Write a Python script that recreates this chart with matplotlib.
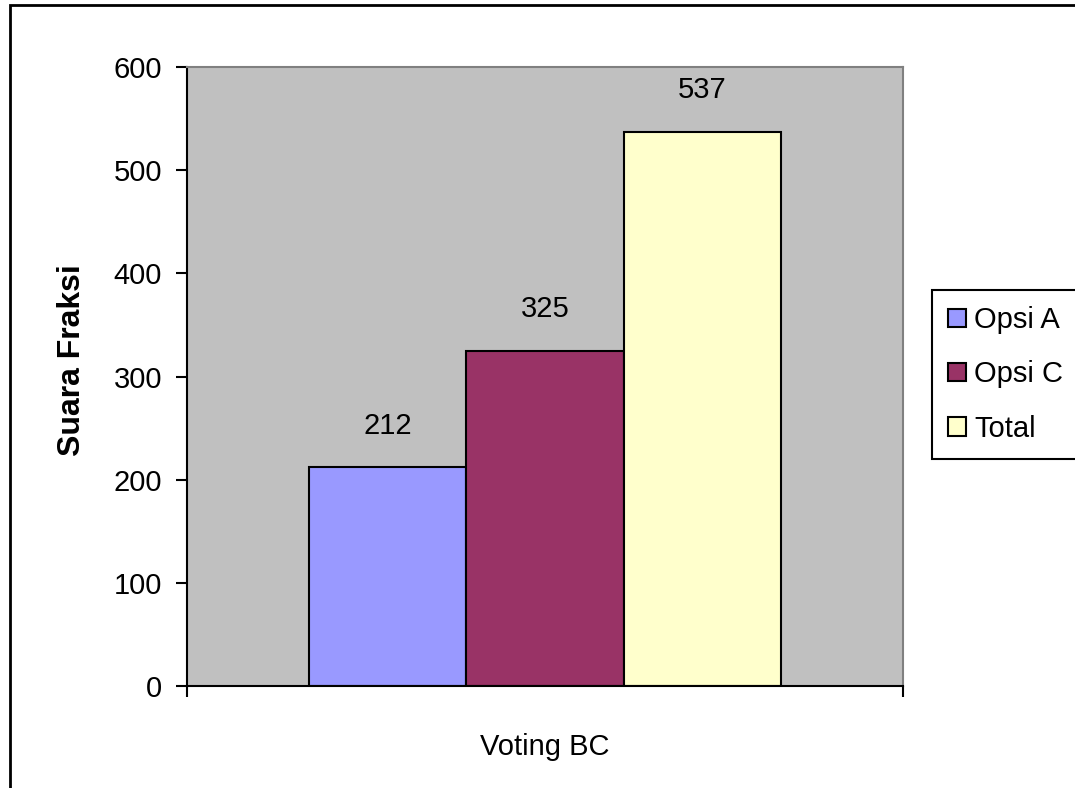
import matplotlib.pyplot as plt
from matplotlib.patches import Rectangle

plt.rcParams['font.family'] = ['Liberation Sans', 'DejaVu Sans']

# Data
category = "Voting BC"
series = ["Opsi A", "Opsi C", "Total"]
values = [212, 325, 537]
colors = ["#9999FF", "#993366", "#FFFFCC"]

fig = plt.figure(figsize=(10.75, 7.88), dpi=100)
ax = fig.add_axes([187/1075, 1 - 686/788, 716/1075, 619/788])
ax.set_facecolor("#C0C0C0")

width = 0.22
offsets = [-width, 0, width]
for name, val, col, off in zip(series, values, colors, offsets):
    ax.bar(0.5 + off, val, width=width, color=col, edgecolor="black",
           linewidth=1.5, label=name)
    ax.annotate(str(val), (0.5 + off, val), xytext=(0, 20), textcoords="offset points",
                ha="center", va="bottom", fontsize=21)

ax.set_xlim(0, 1)
ax.set_ylim(0, 600)
ax.set_yticks(range(0, 601, 100))
ax.tick_params(axis="y", labelsize=21, length=8, width=1.5, direction="out", pad=10)
ax.set_xticks([0.5])
ax.set_xticklabels([category], fontsize=21)
ax.tick_params(axis="x", which="major", length=0, pad=34)
ax.set_xticks([0, 1], minor=True)
ax.tick_params(axis="x", which="minor", length=8, width=1.5, direction="out")

ax.spines["left"].set_linewidth(1.5)
ax.spines["bottom"].set_linewidth(1.5)
for s in ["top", "right"]:
    ax.spines[s].set_color("#808080")
    ax.spines[s].set_linewidth(1.5)

# y axis title
fig.text(72/1075, 1 - 360/788, "Suara Fraksi", rotation=90, ha="center", va="center",
         fontsize=23, fontweight="bold")

leg = fig.legend(loc="upper left", bbox_to_anchor=(932/1075, 1 - 290/788),
                 fontsize=21, fancybox=False, edgecolor="black", framealpha=1,
                 handlelength=0.6, handleheight=0.6, handletextpad=0.3,
                 labelspacing=0.9, borderpad=0.55, borderaxespad=0)
leg.get_frame().set_linewidth(1.5)

# outer chart border (cropped at right and bottom)
fig.patches.append(Rectangle((10/1075, -0.1), 1.2, 1 - 5/788 + 0.1,
                             transform=fig.transFigure, fill=False,
                             edgecolor="black", linewidth=2))

fig.savefig("out.png", dpi=100)
